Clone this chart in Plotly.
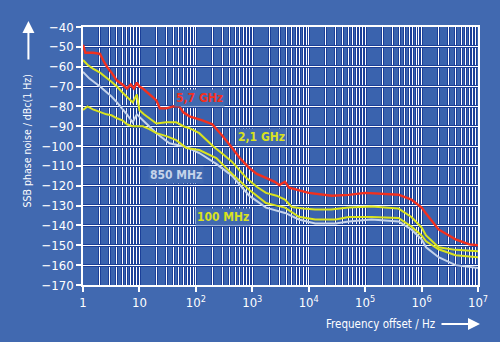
import plotly.graph_objects as go

# ---- data ----
red_f = [1, 1.1, 1.5, 2, 2.3, 2.65, 3.2, 4, 5, 6, 7, 8, 9, 10, 11.5, 14, 17, 20, 23, 30, 40, 51, 60, 77,
         100, 130, 195, 300, 440, 600, 880, 1200, 1750, 2500, 3000, 3800, 4500, 7000, 10000, 25700, 51000,
         1e5, 2e5, 3.9e5, 6.6e5, 1e6, 1.2e6, 2e6, 4e6, 7e6, 1e7]
red_L = [-49, -53, -53, -53.5, -57, -60, -63, -67, -69, -71, -69, -71, -68, -70, -71, -73, -75, -77, -81, -81,
         -80, -80, -83, -85, -86, -87, -89, -95, -101, -106, -111, -114, -116, -118, -119.6, -118, -121,
         -122.5, -123.6, -125, -124.6, -123.6, -124, -124.5, -127, -131, -134, -142, -147, -149.5, -150]

y21_f = [1, 1.2, 1.5, 2, 3, 4, 5, 6, 7.6, 9, 10, 12, 15, 20, 30, 45, 60, 77, 115, 200, 300, 440, 780, 1200,
         1750, 2700, 3800, 5000, 8000, 13000, 25000, 51000, 1.3e5, 3.9e5, 6.6e5, 1e6, 1.2e6, 2e6, 4e6, 1e7]
y21_L = [-56.6, -59, -61, -63, -67, -70, -73, -75, -78, -74, -82, -84, -86, -88.6, -88, -88, -90, -91, -93.5,
         -100, -104, -108, -116, -120.5, -123.6, -125, -127, -130.7, -131.5, -132, -132, -131, -130.5,
         -131.5, -135.7, -141, -145, -151, -152.3, -153]

y100_f = [1, 1.2, 1.5, 2, 2.6, 3.2, 4, 5, 6, 7.6, 9, 11.5, 15, 20, 30, 45, 68, 115, 230, 440, 880, 1200,
          1750, 2700, 3800, 6700, 13000, 30000, 51000, 1.3e5, 3.9e5, 6.6e5, 1e6, 1.2e6, 2e6, 4e6, 1e7]
y100_L = [-81.8, -80, -81.5, -82.8, -84, -84.5, -86, -87, -89, -90, -90, -90, -91.5, -93.5, -95, -97, -101,
          -102, -106, -114, -122, -125, -128.7, -130, -131, -135.6, -137, -137, -135.7, -135.7, -136.2,
          -140.6, -145, -148, -152, -155, -156]

m850_f = [1, 1.3, 2, 2.6, 3.2, 4, 5, 6, 7.6, 9, 11.5, 15, 20, 34, 68, 115, 230, 440, 880, 1750, 3800, 6700,
          13000, 30000, 51000, 1.3e5, 3.9e5, 6.6e5, 1e6, 1.2e6, 2e6, 4e6, 1e7]
m850_L = [-62.6, -66, -70, -72.6, -75, -78, -81, -84, -88, -84, -87, -90, -93.5, -98.6, -100.5, -103.5, -109,
          -115, -125, -131, -133.7, -137, -139, -139, -138, -137, -138, -142, -147, -151, -156, -160, -161.5]

x_tickvals = [1, 10, 100, 1e3, 1e4, 1e5, 1e6, 1e7]
x_ticktext = ["1", "10", "10<sup>2</sup>", "10<sup>3</sup>", "10<sup>4</sup>", "10<sup>5</sup>",
              "10<sup>6</sup>", "10<sup>7</sup>"]
y_tickvals = list(range(-170, -30, 10))

FONT = "DejaVu Sans Condensed, Liberation Sans, sans-serif"
BG = "#4169B0"
NAVY = "#1B3F98"

fig = go.Figure()
# invisible trace so that the base axes (ticks, labels, grid) are drawn
fig.add_trace(go.Scatter(x=[10], y=[-100], mode="markers", marker=dict(opacity=0),
                         showlegend=False, hoverinfo="skip"))
series = [
    (m850_f, m850_L, "#C5D3EA", 2.0),
    (y100_f, y100_L, "#D9E21E", 2.0),
    (y21_f, y21_L, "#D9E21E", 2.0),
    (red_f, red_L, "#F2301E", 2.4),
]
for f, L, c, w in series:
    fig.add_trace(go.Scatter(x=f, y=L, mode="lines", line=dict(color=c, width=w),
                             xaxis="x2", yaxis="y2", showlegend=False, hoverinfo="skip"))

common_x = dict(type="log", range=[0, 7])
common_y = dict(range=[-170, -40])

fig.update_layout(
    width=500, height=342,
    margin=dict(l=83, r=19, t=27, b=57),
    paper_bgcolor=BG, plot_bgcolor="#3A63AE",
    font=dict(family=FONT, color="white", size=12),
    xaxis=dict(**common_x, tickvals=x_tickvals, ticktext=x_ticktext,
               showgrid=True, gridcolor="white", gridwidth=1.4,
               minor=dict(dtick="D1", showgrid=True, gridcolor=NAVY, gridwidth=3),
               ticks="outside", ticklen=5, tickcolor="white", tickwidth=1.5,
               showline=True, linecolor="white", linewidth=1.5, mirror=True,
               zeroline=False, tickfont=dict(size=13)),
    yaxis=dict(**common_y, tickvals=y_tickvals,
               showgrid=True, gridcolor=NAVY, gridwidth=3,
               ticks="outside", ticklen=5, tickcolor="white", tickwidth=1.5,
               showline=True, linecolor="white", linewidth=1.5, mirror=True,
               zeroline=False, tickfont=dict(size=13)),
    xaxis2=dict(**common_x, overlaying="x", showticklabels=False, showgrid=False,
                minor=dict(dtick="D1", showgrid=True, gridcolor="white", gridwidth=1.2),
                zeroline=False, showline=False),
    yaxis2=dict(**common_y, overlaying="y", showticklabels=False, showgrid=True,
                gridcolor="white", gridwidth=1.2, dtick=10, zeroline=False, showline=False),
)

def px(xp, yp):
    return (xp - 83) / 398.0, (285 - yp) / 258.0

labels = [
    ("5,7 GHz", 200, 98, "#F2301E"),
    ("2,1 GHz", 263, 137, "#D9E21E"),
    ("850 MHz", 177, 175, "#C5D3EA"),
    ("100 MHz", 224, 217, "#D9E21E"),
]
for t, xp, yp, c in labels:
    x, y = px(xp, yp)
    fig.add_annotation(x=x, y=y, xref="paper", yref="paper", text="<b>" + t + "</b>",
                       xanchor="center", yanchor="middle",
                       showarrow=False, font=dict(color=c, size=12, family=FONT),
                       bgcolor=BG, borderpad=1)

# axis titles
x, y = px(27, 141)
fig.add_annotation(x=x, y=y, xref="paper", yref="paper", text="SSB phase noise / dBc(1 Hz)",
                   xanchor="center", yanchor="middle",
                   textangle=-90, showarrow=False, font=dict(color="white", size=10.5, family=FONT))
x, y = px(383, 324)
fig.add_annotation(x=x, y=y, xref="paper", yref="paper", text="Frequency offset / Hz",
                   xanchor="center", yanchor="middle",
                   showarrow=False, font=dict(color="white", size=11.5, family=FONT))
# arrows
x, y = px(28, 21)
fig.add_annotation(x=x, y=y, xref="paper", yref="paper", text="", showarrow=True,
                   ax=0, ay=40, arrowhead=2, arrowsize=1.2, arrowwidth=2, arrowcolor="white")
x, y = px(483, 324)
fig.add_annotation(x=x, y=y, xref="paper", yref="paper", text="", showarrow=True,
                   ax=-40, ay=0, arrowhead=2, arrowsize=1.2, arrowwidth=2, arrowcolor="white")

fig.write_html("out.html")
